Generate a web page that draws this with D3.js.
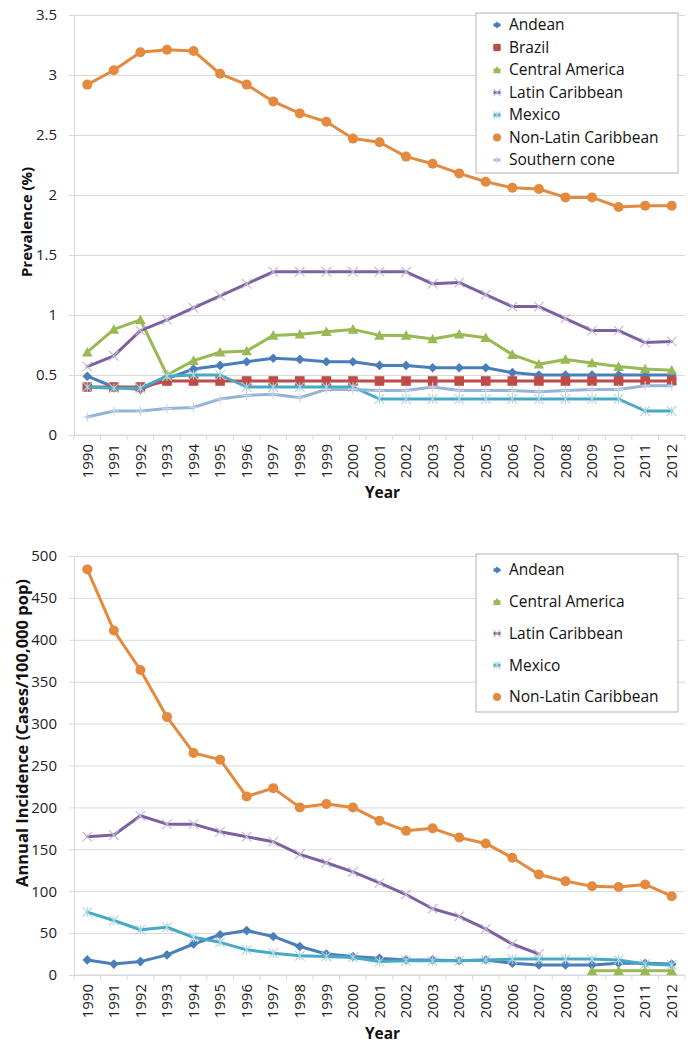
<!DOCTYPE html>
<html>
<head>
<meta charset="utf-8">
<script src="https://cdn.jsdelivr.net/npm/d3@7"></script>
<style>
  body { margin: 0; background: #fff; }
  svg { display: block; font-family: "Open Sans", sans-serif; }
</style>
</head>
<body>
<svg id="chart" width="694" height="1050"></svg>
<script>
// categories
const years = ["1990","1991","1992","1993","1994","1995","1996","1997","1998","1999","2000","2001",
               "2002","2003","2004","2005","2006","2007","2008","2009","2010","2011","2012"];

// prevalence (%)
const prevAndean    = [0.49,0.40,0.38,0.47,0.55,0.58,0.61,0.64,0.63,0.61,0.61,0.58,0.58,0.56,0.56,0.56,0.52,0.50,0.50,0.50,0.50,0.50,0.50];
const prevBrazil    = [0.40,0.40,0.40,0.45,0.45,0.45,0.45,0.45,0.45,0.45,0.45,0.45,0.45,0.45,0.45,0.45,0.45,0.45,0.45,0.45,0.45,0.45,0.45];
const prevCentralAm = [0.69,0.88,0.96,0.50,0.62,0.69,0.70,0.83,0.84,0.86,0.88,0.83,0.83,0.80,0.84,0.81,0.67,0.59,0.63,0.60,0.57,0.55,0.54];
const prevLatinCar  = [0.57,0.66,0.87,0.96,1.06,1.16,1.26,1.36,1.36,1.36,1.36,1.36,1.36,1.26,1.27,1.17,1.07,1.07,0.97,0.87,0.87,0.77,0.78];
const prevMexico    = [0.40,0.39,0.39,0.49,0.50,0.50,0.40,0.40,0.40,0.40,0.40,0.30,0.30,0.30,0.30,0.30,0.30,0.30,0.30,0.30,0.30,0.20,0.20];
const prevNonLatin  = [2.92,3.04,3.19,3.21,3.20,3.01,2.92,2.78,2.68,2.61,2.47,2.44,2.32,2.26,2.18,2.11,2.06,2.05,1.98,1.98,1.90,1.91,1.91];
const prevSouthern  = [0.15,0.20,0.20,0.22,0.23,0.30,0.33,0.34,0.31,0.38,0.38,0.37,0.37,0.40,0.37,0.37,0.37,0.36,0.37,0.38,0.38,0.41,0.41];
const prevTicks     = [0, 0.5, 1, 1.5, 2, 2.5, 3, 3.5];

// annual incidence (cases / 100,000 pop)
const incAndean    = [18,13,16,24,37,48,53,46,34,25,22,20,18,18,17,18,14,12,12,12,14,14,13];
const incCentralAm = [null,null,null,null,null,null,null,null,null,null,null,null,null,null,null,null,null,null,null,5,5,5,5];
const incLatinCar  = [165,167,190,180,180,171,165,159,144,134,123,110,96,79,70,55,37,25,null,null,null,null,null];
const incMexico    = [75,65,54,57,45,39,30,26,23,22,21,16,17,17,17,18,19,19,19,19,18,13,12];
const incNonLatin  = [484,411,364,308,265,257,213,223,200,204,200,184,172,175,164,157,140,120,112,106,105,108,94];
const incTicks     = [0,50,100,150,200,250,300,350,400,450,500];

const colors = {
  andean: "#4a7ebb", brazil: "#be4b48", central: "#98b954", latin: "#7d60a0",
  mexico: "#46aac5", nonlatin: "#e38a3f", southern: "#95b3d7"
};

const svg = d3.select("#chart");

function markerPath(type, s) {
  // s = half size
  if (type === "diamond") return `M0,${-s}L${s},0L0,${s}L${-s},0Z`;
  if (type === "square") return `M${-s},${-s}H${s}V${s}H${-s}Z`;
  if (type === "triangle") return `M0,${-s * 1.1}L${s * 1.1},${s * 0.9}L${-s * 1.1},${s * 0.9}Z`;
  if (type === "x") return `M${-s},${-s}L${s},${s}M${-s},${s}L${s},${-s}`;
  if (type === "star") return `M${-s},${-s}L${s},${s}M${-s},${s}L${s},${-s}M0,${-s}V${s}`;
  if (type === "plus") return `M${-s},0H${s}M0,${-s}V${s}`;
  return null;
}

function drawMarker(g, type, color, s) {
  if (type === "circle") {
    g.append("circle").attr("r", s).attr("fill", color);
  } else if (type === "x" || type === "star" || type === "plus") {
    g.append("path").attr("d", markerPath(type, s))
      .attr("fill", "none")
      .attr("stroke", d3.interpolateRgb(color, "#e8e8e8")(0.65))
      .attr("stroke-width", 1.1);
  } else {
    g.append("path").attr("d", markerPath(type, s)).attr("fill", color);
  }
}

function drawChart(cfg) {
  const x = d3.scaleBand().domain(years).range([cfg.left, cfg.right]);
  const y = d3.scaleLinear().domain([0, d3.max(cfg.ticks)]).range([cfg.bottom, cfg.top]);
  const cx = d => x(d) + x.bandwidth() / 2;
  const root = svg.append("g");

  // gridlines
  root.append("g")
    .attr("transform", `translate(${cfg.left},0)`)
    .call(d3.axisLeft(y).tickValues(cfg.ticks).tickSize(-(cfg.right - cfg.left)).tickFormat(""))
    .call(g => g.select(".domain").remove())
    .call(g => g.selectAll("line").attr("stroke", "#d9d9d9"));

  // y axis
  root.append("g")
    .attr("transform", `translate(${cfg.left},0)`)
    .call(d3.axisLeft(y).tickValues(cfg.ticks).tickSize(5).tickPadding(12).tickFormat(d => String(d)))
    .call(g => g.select(".domain").attr("stroke", "#d9d9d9"))
    .call(g => g.selectAll("line").attr("stroke", "#d9d9d9"))
    .call(g => g.selectAll("text").attr("fill", "#222").style("font-size", "15px").style("font-family", "Open Sans"));

  // x axis line + category boundary ticks
  const xa = root.append("g");
  xa.append("line")
    .attr("x1", cfg.left).attr("x2", cfg.right)
    .attr("y1", cfg.bottom).attr("y2", cfg.bottom)
    .attr("stroke", "#d9d9d9");
  xa.selectAll("line.tk").data(years.concat(["end"])).join("line")
    .attr("class", "tk")
    .attr("x1", d => d === "end" ? cfg.right : x(d))
    .attr("x2", d => d === "end" ? cfg.right : x(d))
    .attr("y1", cfg.bottom).attr("y2", cfg.bottom + 5)
    .attr("stroke", "#d9d9d9");
  xa.selectAll("text").data(years).join("text")
    .attr("transform", d => `translate(${cx(d)},${cfg.bottom + 9}) rotate(-90)`)
    .attr("text-anchor", "end")
    .attr("dy", "0.35em")
    .attr("fill", "#222")
    .style("font-size", "15px")
    .text(d => d);

  // axis titles
  root.append("text")
    .attr("x", (cfg.left + cfg.right) / 2 + 3).attr("y", cfg.xTitleY)
    .attr("text-anchor", "middle").attr("dy", "0.35em")
    .attr("fill", "#111").style("font-size", "15.5px").style("font-weight", "bold")
    .text("Year");
  root.append("text")
    .attr("transform", `translate(${cfg.yTitleX},${cfg.yTitleY}) rotate(-90)`)
    .attr("text-anchor", "middle").attr("dy", "0.35em")
    .attr("fill", "#111").style("font-size", cfg.yTitleSize).style("font-weight", "bold")
    .text(cfg.yTitle);

  // series
  const line = d3.line()
    .defined(d => d.v != null)
    .x(d => cx(d.year))
    .y(d => y(d.v));

  cfg.series.forEach(s => {
    const pts = years.map((yr, i) => ({ year: yr, v: s.values[i] }));
    const g = root.append("g");
    g.append("path").datum(pts)
      .attr("d", line)
      .attr("fill", "none")
      .attr("stroke", s.color)
      .attr("stroke-width", 3)
      .attr("stroke-linejoin", "round")
      .attr("stroke-linecap", "round");
    pts.filter(d => d.v != null).forEach(d => {
      const m = g.append("g").attr("transform", `translate(${cx(d.year)},${y(d.v)})`);
      drawMarker(m, s.marker, s.color, s.marker === "circle" ? 5 : 4.8);
    });
  });

  // legend
  const lg = root.append("g");
  lg.append("rect")
    .attr("x", cfg.legend.x).attr("y", cfg.legend.y)
    .attr("width", cfg.legend.w).attr("height", cfg.legend.h)
    .attr("fill", "#fff").attr("stroke", "#b3b3b3");
  cfg.series.forEach((s, i) => {
    const ly = cfg.legend.y0 + i * cfg.legend.step;
    const item = lg.append("g").attr("transform", `translate(${cfg.legend.x + 21},${ly})`);
    item.append("line").attr("x1", -3.5).attr("x2", 3.5)
      .attr("stroke", s.color).attr("stroke-width", 3);
    drawMarker(item, s.marker, s.color, s.marker === "circle" ? 4 : 3.6);
    item.append("text")
      .attr("x", 12).attr("dy", "0.35em")
      .attr("fill", "#111").style("font-size", "15.5px")
      .text(s.name);
  });
}

drawChart({
  left: 74, right: 685, top: 15, bottom: 435,
  ticks: prevTicks,
  xTitleY: 493, yTitleX: 27, yTitleY: 222,
  yTitle: "Prevalence (%)", yTitleSize: "15px",
  legend: { x: 476, y: 13, w: 202, h: 160, y0: 25, step: 22.5 },
  series: [
    { name: "Andean", values: prevAndean, color: colors.andean, marker: "diamond" },
    { name: "Brazil", values: prevBrazil, color: colors.brazil, marker: "square" },
    { name: "Central America", values: prevCentralAm, color: colors.central, marker: "triangle" },
    { name: "Latin Caribbean", values: prevLatinCar, color: colors.latin, marker: "x" },
    { name: "Mexico", values: prevMexico, color: colors.mexico, marker: "star" },
    { name: "Non-Latin Caribbean", values: prevNonLatin, color: colors.nonlatin, marker: "circle" },
    { name: "Southern cone", values: prevSouthern, color: colors.southern, marker: "plus" }
  ]
});

drawChart({
  left: 74, right: 685, top: 556, bottom: 975,
  ticks: incTicks,
  xTitleY: 1034, yTitleX: 22, yTitleY: 733,
  yTitle: "Annual Incidence (Cases/100,000 pop)", yTitleSize: "16.5px",
  legend: { x: 476, y: 554, w: 202, h: 158, y0: 570, step: 31.75 },
  series: [
    { name: "Andean", values: incAndean, color: colors.andean, marker: "diamond" },
    { name: "Central America", values: incCentralAm, color: colors.central, marker: "triangle" },
    { name: "Latin Caribbean", values: incLatinCar, color: colors.latin, marker: "x" },
    { name: "Mexico", values: incMexico, color: colors.mexico, marker: "star" },
    { name: "Non-Latin Caribbean", values: incNonLatin, color: colors.nonlatin, marker: "circle" }
  ]
});
</script>
</body>
</html>
